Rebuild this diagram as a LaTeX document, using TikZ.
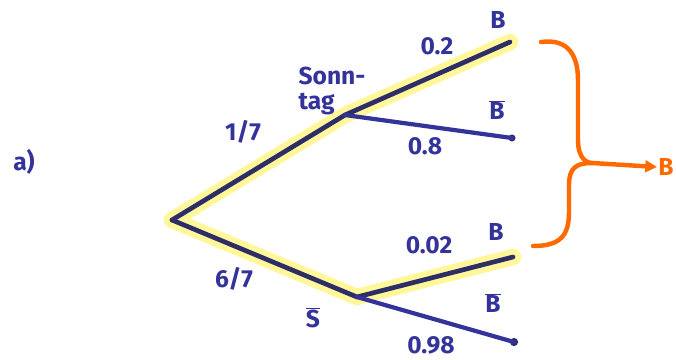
\documentclass[tikz,border=0pt]{standalone}
\usepackage{fontspec}
\setmainfont{Fira Sans}
\usetikzlibrary{arrows.meta, positioning}

\definecolor{ink}{HTML}{33339A}
\definecolor{inkdark}{HTML}{2E2E66}
\definecolor{marker}{HTML}{FFF79A}
\definecolor{pen}{HTML}{FF6A00}

\newcommand{\nicht}[1]{$\overline{\hbox{#1}}$}

\begin{document}
\begin{tikzpicture}[
    x=0.03cm, y=-0.03cm,
    dot/.style={circle, fill=inkdark, inner sep=0pt, minimum size=8pt},
    lbl/.style={text=ink, font=\fontsize{21}{21}\selectfont\bfseries, inner sep=1pt, align=left},
    edge/.style={draw=inkdark, line width=4pt, line cap=round},
    rest/.style={draw=ink, line width=3.6pt, line cap=round},
    glow/.style={draw=marker, line width=14pt, line cap=round, line join=round},
    brace/.style={draw=pen, line width=3.8pt, line cap=round}
]
\useasboundingbox (0,0) rectangle (676,359);

% Nodes
\coordinate (root) at (172,220);
\node (sonn) [dot] at (345,115) {};
\node (nots) [dot] at (357,297) {};
\node (b1) [dot] at (510,42) {};
\node (nb1) [dot, minimum size=6pt] at (512,138) {};
\node (b2) [dot] at (513,257) {};
\node (nb2) [dot, minimum size=7pt] at (514,342) {};

% Highlight
\draw [glow] (root) -- (sonn.center) -- (b1.center);
\draw [glow] (root) -- (nots.center) -- (b2.center);

% Branches
\draw [edge] (root) -- (sonn.center);
\draw [edge] (sonn.center) -- (b1.center);
\draw [edge] (root) -- (nots.center);
\draw [edge] (nots.center) -- (b2.center);
\draw [rest] (sonn.center) -- (nb1.center);
\draw [rest] (nots.center) -- (nb2.center);

% Labels
\node (task) [lbl] at (24,162) {a)};
\node (p17) [lbl] at (243,132) {1/7};
\node (p67) [lbl] at (234,279) {6/7};
\node (sonntxt) [lbl] at (332,91) {Sonn-\\tag};
\node (nstxt) [lbl] at (313,318) {\nicht{S}};
\node (p02) [lbl] at (437,46) {0.2};
\node (p08) [lbl] at (425,146) {0.8};
\node (p002) [lbl] at (429,245) {0.02};
\node (p098) [lbl] at (431,345) {0.98};
\node (tb1) [lbl] at (498,20) {B};
\node (tnb1) [lbl] at (497,110) {\nicht{B}};
\node (tb2) [lbl] at (496,232) {B};
\node (tnb2) [lbl] at (493,303) {\nicht{B}};

% Result
\coordinate (ctop) at (541,42);
\coordinate (cbot) at (533,246);
\coordinate (join) at (592,163);
\node (res) [lbl, text=pen, anchor=west] at (657,167) {B};
\draw [brace] (ctop) .. controls (570,38) and (578,58) .. (578,80) -- (578,140)
    .. controls (578,160) and (588,163) .. (join);
\draw [brace] (cbot) .. controls (560,246) and (569,236) .. (569,212) -- (569,185)
    .. controls (569,168) and (576,163) .. (join);
\draw [brace, -{Triangle[length=10pt, width=10pt]}] (join) -- (res.west);

\end{tikzpicture}
\end{document}
